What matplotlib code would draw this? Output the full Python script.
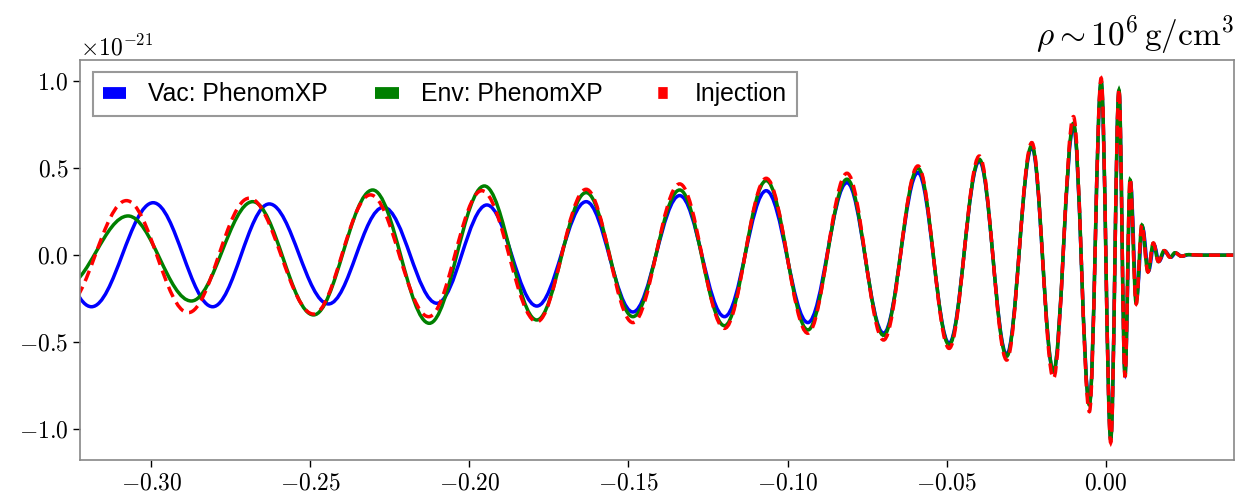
import numpy as np
import matplotlib
matplotlib.use('Agg')
import matplotlib.pyplot as plt
from matplotlib.path import Path
from matplotlib.patches import PathPatch
from matplotlib.lines import Line2D
from matplotlib.ticker import MultipleLocator, ScalarFormatter

plt.rcParams['font.family'] = 'serif'
plt.rcParams['font.serif'] = ['cmr10']
plt.rcParams['mathtext.fontset'] = 'cm'
plt.rcParams['axes.formatter.use_mathtext'] = True

H_SCALE = 1e-21

vac_t = [-0.3382, -0.3188, -0.2994, -0.2807, -0.2629, -0.2443, -0.2270, -0.2102,
         -0.1945, -0.1788, -0.1633, -0.1486, -0.1339, -0.1198, -0.1067, -0.0936,
         -0.0813, -0.0698, -0.0590, -0.0492, -0.0397, -0.0311, -0.0232, -0.0164,
         -0.0101, -0.0051, -0.0014, 0.0016, 0.0042, 0.0061, 0.0078, 0.0097,
         0.0116, 0.0135, 0.0152, 0.0168, 0.0186, 0.0205, 0.0220, 0.0240, 0.0262,
         0.0300, 0.0450]
vac_h = [0.30, -0.296, 0.301, -0.296, 0.294, -0.280, 0.275, -0.276,
         0.288, -0.292, 0.307, -0.326, 0.342, -0.353, 0.370, -0.387,
         0.416, -0.448, 0.474, -0.505, 0.54, -0.57, 0.62, -0.67,
         0.74, -0.85, 0.99, -1.05, 0.94, -0.68, 0.42, -0.25,
         0.16, -0.09, 0.06, -0.035, 0.024, -0.012, 0.012, -0.006, 0.003,
         0.0, 0.0]

env_t = [-0.3272, -0.3073, -0.2874, -0.2681, -0.2490, -0.2304, -0.2126, -0.1953,
         -0.1788, -0.1633, -0.1486, -0.1339, -0.1198, -0.1067, -0.0936, -0.0813,
         -0.0698, -0.0590, -0.0492, -0.0397, -0.0311, -0.0232, -0.0164, -0.0101,
         -0.0051, -0.0014, 0.0016, 0.0042, 0.0061, 0.0077, 0.0096, 0.0114,
         0.0133, 0.0150, 0.0166, 0.0184, 0.0203, 0.0218, 0.0238, 0.0260,
         0.0300, 0.0450]
env_h = [-0.18, 0.225, -0.263, 0.307, -0.343, 0.374, -0.391, 0.397,
         -0.372, 0.359, -0.353, 0.374, -0.405, 0.428, -0.429, 0.436,
         -0.46, 0.499, -0.515, 0.55, -0.58, 0.63, -0.665, 0.757,
         -0.86, 1.0, -1.06, 0.948, -0.688, 0.432, -0.276, 0.173,
         -0.095, 0.068, -0.037, 0.026, -0.012, 0.014, -0.006, 0.003,
         0.0, 0.0]

inj_t = [-0.3272, -0.3078, -0.2884, -0.2692, -0.2490, -0.2311, -0.2128, -0.1961,
         -0.1788, -0.1633, -0.1486, -0.1339, -0.1198, -0.1067, -0.0936, -0.0813,
         -0.0698, -0.0590, -0.0492, -0.0397, -0.0311, -0.0232, -0.0164, -0.0101,
         -0.0051, -0.0014, 0.0016, 0.0042, 0.0061, 0.0077, 0.0096, 0.0114,
         0.0133, 0.0150, 0.0166, 0.0184, 0.0203, 0.0218, 0.0238, 0.0260,
         0.0300, 0.0450]
inj_h = [-0.30, 0.313, -0.330, 0.327, -0.338, 0.346, -0.353, 0.370,
         -0.382, 0.378, -0.387, 0.409, -0.420, 0.441, -0.448, 0.470,
         -0.487, 0.512, -0.535, 0.569, -0.602, 0.646, -0.707, 0.795,
         -0.898, 1.016, -1.076, 0.955, -0.70, 0.44, -0.28, 0.175,
         -0.097, 0.07, -0.037, 0.026, -0.012, 0.014, -0.006, 0.003,
         0.0, 0.0]

labels = ['Vac: PhenomXP', 'Env: PhenomXP', 'Injection']
colors = ['blue', 'green', 'red']


def wave_path(t, h, k=0.3634):
    # smooth curve through turning points: cubic Bezier with flat tangents
    h = [v * H_SCALE for v in h]
    verts = [(t[0], h[0])]
    codes = [Path.MOVETO]
    for i in range(len(t) - 1):
        dt = t[i + 1] - t[i]
        verts += [(t[i] + k * dt, h[i]), (t[i + 1] - k * dt, h[i + 1]), (t[i + 1], h[i + 1])]
        codes += [Path.CURVE4] * 3
    return Path(verts, codes)


fig = plt.figure(figsize=(12.36, 4.99), dpi=100)
ax = fig.add_axes([0.065, 0.0776, 0.9335, 0.8022])

ax.add_patch(PathPatch(wave_path(vac_t, vac_h), fill=False, edgecolor=colors[0], lw=2.5))
ax.add_patch(PathPatch(wave_path(env_t, env_h), fill=False, edgecolor=colors[1], lw=2.5))
ax.add_patch(PathPatch(wave_path(inj_t, inj_h), fill=False, edgecolor=colors[2], lw=2.5,
                       linestyle=(0, (3.2, 1.8))))

ax.set_xlim(-0.3223, 0.0404)
ax.set_ylim(-1.177e-21, 1.12e-21)
ax.xaxis.set_major_locator(MultipleLocator(0.05))
ax.yaxis.set_major_locator(MultipleLocator(0.5e-21))
fmt = ScalarFormatter(useMathText=True)
ax.yaxis.set_major_formatter(fmt)
ax.tick_params(labelsize=17, length=5, width=1.0, color='black')
ax.yaxis.get_offset_text().set_fontsize(17)
for s in ax.spines.values():
    s.set_color('#888888')
    s.set_linewidth(1.2)

handles = [Line2D([], [], color=colors[0], lw=8.5, solid_capstyle='butt'),
           Line2D([], [], color=colors[1], lw=8.5, solid_capstyle='butt'),
           Line2D([], [], color=colors[2], lw=8.5, dash_capstyle='butt',
                  linestyle=(2.1, (0.8, 2.0)))]
leg = ax.legend(handles, labels, loc='upper left', ncol=3, fancybox=False, framealpha=1,
                edgecolor='#999999', handlelength=0.95, handletextpad=0.9, columnspacing=1.9,
                prop={'family': 'Liberation Sans', 'size': 17.8})
leg.get_frame().set_linewidth(1.5)

ax.set_title(r'$\rho \sim 10^{6}\,\mathrm{g/cm^{3}}$', loc='right', fontsize=24, pad=11)

plt.savefig('out.png', dpi=100)
plt.close()
